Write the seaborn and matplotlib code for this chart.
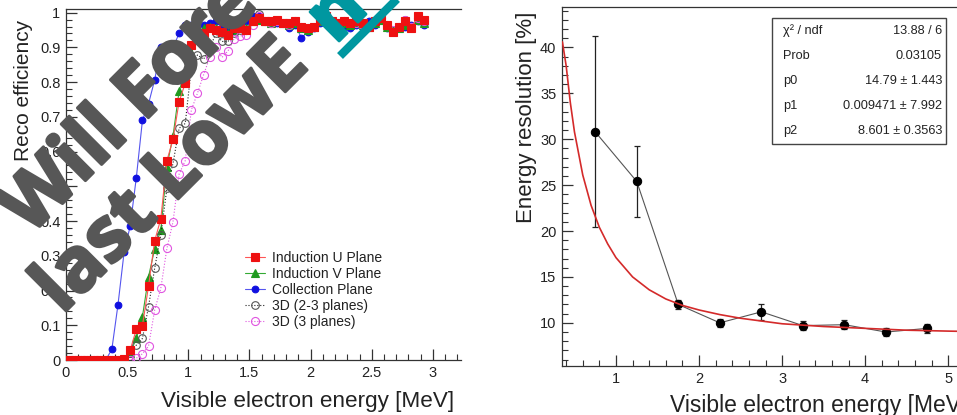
import numpy as np
import pandas as pd
import matplotlib
matplotlib.use("Agg")
import matplotlib.pyplot as plt
import seaborn as sns
from matplotlib.patches import Rectangle
from matplotlib.ticker import MultipleLocator, FuncFormatter
import matplotlib.lines as mlines
import matplotlib.patheffects as pe

# ---------------- data (left panel: reconstruction efficiency) ----------------
energy_bins = [0.025, 0.075, 0.125, 0.175, 0.225, 0.275, 0.325, 0.375, 0.425, 0.475,
               0.525, 0.575, 0.625, 0.675, 0.725, 0.775, 0.825, 0.875, 0.925, 0.975,
               1.025, 1.075, 1.125, 1.175, 1.225, 1.275, 1.325, 1.375, 1.425, 1.475,
               1.525, 1.575, 1.625, 1.675, 1.725, 1.775, 1.825, 1.875, 1.925, 1.975,
               2.025, 2.075, 2.125, 2.175, 2.225, 2.275, 2.325, 2.375, 2.425, 2.475,
               2.525, 2.575, 2.625, 2.675, 2.725, 2.775, 2.825, 2.875, 2.925]

eff_induction_u = [0, 0, 0, 0, 0, 0, 0, 0, 0, 0.003,
                   0.029, 0.088, 0.099, 0.213, 0.343, 0.406, 0.574, 0.635, 0.744, 0.797,
                   0.907, 0.940, 0.940, 0.955, 0.950, 0.945, 0.935, 0.955, 0.955, 0.950,
                   0.975, 0.985, 0.975, 0.975, 0.980, 0.970, 0.970, 0.975, 0.960, 0.955,
                   0.960, 0.980, 0.990, 0.975, 0.970, 0.975, 0.970, 0.975, 0.970, 0.960,
                   0.975, 0.985, 0.965, 0.945, 0.960, 0.975, 0.955, 0.990, 0.980]

eff_induction_v = [0, 0, 0, 0, 0, 0, 0, 0, 0, 0,
                   0.020, 0.062, 0.125, 0.240, 0.320, 0.374, 0.557, 0.645, 0.775, 0.830,
                   0.883, 0.930, 0.955, 0.960, 0.955, 0.945, 0.940, 0.950, 0.960, 0.955,
                   0.975, 0.980, 0.975, 0.970, 0.975, 0.970, 0.965, 0.970, 0.955, 0.950,
                   0.960, 0.975, 0.985, 0.970, 0.965, 0.970, 0.965, 0.970, 0.965, 0.960,
                   0.970, 0.980, 0.960, 0.950, 0.955, 0.965, 0.960, 0.980, 0.970]

eff_collection = [0, 0, 0, 0, 0, 0, 0, 0.031, 0.159, 0.310,
                  0.386, 0.525, 0.690, 0.738, 0.806, 0.900, 0.904, 0.900, 0.940, 0.965,
                  0.965, 0.965, 0.965, 0.970, 0.975, 0.955, 0.950, 0.955, 0.965, 0.975,
                  0.990, 0.990, 0.975, 0.970, 0.970, 0.970, 0.955, 0.965, 0.927, 0.945,
                  0.955, 0.970, 0.980, 0.975, 0.965, 0.960, 0.955, 0.965, 0.970, 0.975,
                  0.965, 0.980, 0.955, 0.945, 0.955, 0.960, 0.965, 0.975, 0.965]

eff_3d_23 = [0, 0, 0, 0, 0, 0, 0, 0, 0, 0,
             0.020, 0.043, 0.062, 0.154, 0.264, 0.360, 0.494, 0.566, 0.667, 0.681,
             0.842, 0.878, 0.866, 0.897, 0.940, 0.917, 0.917, 0.940, 0.950, 0.950,
             0.975, 0.995, 0.975, 0.975, 0.980, 0.970, 0.970, 0.975, 0.960, 0.955,
             0.960, 0.980, 0.990, 0.975, 0.970, 0.975, 0.970, 0.975, 0.970, 0.960,
             0.975, 0.985, 0.965, 0.950, 0.960, 0.980, 0.960, 0.985, 0.975]

eff_3d_3 = [0, 0, 0, 0, 0, 0, 0, 0, 0, 0,
            0.000, 0.005, 0.018, 0.040, 0.144, 0.206, 0.321, 0.398, 0.535, 0.574,
            0.720, 0.768, 0.821, 0.871, 0.902, 0.871, 0.890, 0.925, 0.933, 0.935,
            0.965, 0.990, 0.975, 0.970, 0.975, 0.970, 0.965, 0.975, 0.960, 0.955,
            0.960, 0.980, 0.985, 0.975, 0.970, 0.975, 0.970, 0.970, 0.965, 0.960,
            0.975, 0.985, 0.965, 0.950, 0.960, 0.980, 0.960, 0.985, 0.975]

series_labels = ["Induction U Plane", "Induction V Plane", "Collection Plane",
                 "3D (2-3 planes)", "3D (3 planes)"]

# ---------------- data (right panel: energy resolution) ----------------
res_energy = [0.75, 1.25, 1.75, 2.25, 2.75, 3.25, 3.75, 4.25, 4.75]
res_value = [30.8, 25.4, 12.0, 10.0, 11.2, 9.7, 9.8, 9.0, 9.4]
res_error = [10.4, 3.9, 0.5, 0.4, 0.9, 0.5, 0.5, 0.4, 0.5]

fit_energy = [0.355, 0.40, 0.45, 0.50, 0.60, 0.70, 0.80, 0.90, 1.00, 1.20, 1.40, 1.60,
              1.80, 2.00, 2.25, 2.50, 2.75, 3.00, 3.50, 4.00, 4.50, 5.00, 5.30]
fit_value = [40.6, 38.0, 34.0, 30.8, 26.1, 22.8, 20.4, 18.6, 17.1, 15.0, 13.6, 12.6,
             11.9, 11.4, 10.9, 10.5, 10.2, 9.9, 9.6, 9.4, 9.2, 9.1, 9.05]

stats_names = ["\u03c7\u00b2 / ndf", "Prob", "p0", "p1", "p2"]
stats_values = ["13.88 / 6", "0.03105", "14.79 \u00b1 1.443", "0.009471 \u00b1 7.992",
                "8.601 \u00b1 0.3563"]

# ---------------- style ----------------
sns.set_theme(style="ticks")
plt.rcParams["font.family"] = ["Liberation Sans", "DejaVu Sans"]
plt.rcParams["axes.edgecolor"] = "#333333"
plt.rcParams["axes.linewidth"] = 0.9

W, H = 957, 415
fig = plt.figure(figsize=(W / 100, H / 100), dpi=100)
fig.patch.set_facecolor("white")


def fx(px):
    return px / W


def fy(py):
    return 1 - py / H


# ---------------- left panel ----------------
ax1 = fig.add_axes([fx(66), fy(360), (461 - 66) / W, (360 - 9.5) / H])
ax1.set_facecolor("white")

styles = [
    dict(y=eff_induction_u, marker="s", ms=5.2, ls="-", mfc="#ee1111", mec="#ee1111", z=6),
    dict(y=eff_induction_v, marker="^", ms=5.2, ls="-", mfc="#1f9a1f", mec="#1f9a1f", z=4),
    dict(y=eff_collection, marker="o", ms=4.8, ls="-", mfc="#1010e0", mec="#1010e0", z=3),
    dict(y=eff_3d_23, marker="o", ms=5.5, ls=":", mfc="none", mec="#555555", z=5),
    dict(y=eff_3d_3, marker="o", ms=5.8, ls=":", mfc="none", mec="#e055e0", z=5),
]
line_colors = ["#ff5555", "#33aa33", "#5555ee", "#222222", "#e055e0"]
for st, lab, lc in zip(styles, series_labels, line_colors):
    sns.lineplot(x=energy_bins, y=st["y"], ax=ax1, color=lc, linewidth=0.8,
                 linestyle=st["ls"], marker=st["marker"], markersize=st["ms"],
                 markerfacecolor=st["mfc"], markeredgecolor=st["mec"],
                 markeredgewidth=0.8, label=lab, zorder=st["z"], errorbar=None,
                 sort=False)

ax1.set_xlim(0, (461 - 66) / 122.3)
ax1.set_ylim(0, 1.009)
ax1.xaxis.set_major_locator(MultipleLocator(0.5))
ax1.xaxis.set_minor_locator(MultipleLocator(0.1))
ax1.yaxis.set_major_locator(MultipleLocator(0.1))
ax1.yaxis.set_minor_locator(MultipleLocator(0.02))
fmt = FuncFormatter(lambda v, p: f"{v:g}")
ax1.xaxis.set_major_formatter(fmt)
ax1.yaxis.set_major_formatter(fmt)
ax1.spines["right"].set_visible(False)

leg = ax1.legend(loc="upper left", bbox_to_anchor=(0.453, 0.31), frameon=False,
                 fontsize=10, handlelength=1.45, handletextpad=0.5,
                 labelspacing=0.14, borderpad=0, borderaxespad=0)
for t in leg.get_texts():
    t.set_color("#222222")

ax1.set_xlabel("Visible electron energy [MeV]", fontsize=16.2, color="#222222", loc="right")
ax1.xaxis.set_label_coords((454 - 66) / 395, (360 - 391) / 350.5)
ax1.set_ylabel("Reco efficiency", fontsize=15, color="#222222", loc="top")
ax1.yaxis.set_label_coords((33 - 66) / 395, 1 - (20 - 9.5) / 350.5)

# ---------------- right panel ----------------
ax2 = fig.add_axes([fx(562), fy(366), (969 - 562) / W, (366 - 7) / H])
ax2.set_facecolor("white")

sns.lineplot(x=res_energy, y=res_value, ax=ax2, color="#555555", linewidth=0.8,
             marker="o", markersize=6, markerfacecolor="black",
             markeredgecolor="black", errorbar=None, zorder=4, sort=False)
ax2.errorbar(res_energy, res_value, yerr=res_error, fmt="none", ecolor="#222222",
             elinewidth=0.9, capsize=2, capthick=0.9, zorder=3)
sns.lineplot(x=fit_energy, y=fit_value, ax=ax2, color="#d42a2a", linewidth=1.2,
             errorbar=None, zorder=5, sort=False)

ax2.set_xlim(0.35, 5.25)
ax2.set_ylim(5.3, 44.4)
ax2.xaxis.set_major_locator(MultipleLocator(1))
ax2.xaxis.set_minor_locator(MultipleLocator(0.2))
ax2.yaxis.set_major_locator(MultipleLocator(5))
ax2.yaxis.set_minor_locator(MultipleLocator(1))
ax2.yaxis.set_major_formatter(FuncFormatter(lambda v, p: f"{v:g}" if v >= 10 else ""))
ax2.spines["right"].set_visible(False)

ax2.set_xlabel("Visible electron energy [MeV]", fontsize=16.5, color="#222222", loc="left")
ax2.xaxis.set_label_coords((670 - 562) / 407, (366 - 394) / 359)
ax2.set_ylabel("Energy resolution [%]", fontsize=16, color="#222222", loc="top")
ax2.yaxis.set_label_coords((537 - 562) / 407, 1 - (12 - 7) / 359)

for ax in (ax1, ax2):
    ax.tick_params(axis="both", which="both", direction="in", top=False, right=False,
                   color="#333333", labelcolor="#222222")
    ax.tick_params(which="major", length=8, width=0.9, labelsize=10.5, pad=4)
    ax.tick_params(which="minor", length=4, width=0.8)
    ax.grid(False)

# stats box
bx0, by0, bx1, by1 = 772, 18, 946, 144
fig.add_artist(Rectangle((fx(bx0), fy(by1)), (bx1 - bx0) / W, (by1 - by0) / H,
                         transform=fig.transFigure, facecolor="white",
                         edgecolor="#444444", linewidth=1.0, zorder=10))
for i, (n, v) in enumerate(zip(stats_names, stats_values)):
    yc = by0 + (by1 - by0) * (i + 0.5) / 5
    fig.text(fx(783), fy(yc), n, fontsize=9.2, color="#222222", ha="left", va="center", zorder=11)
    fig.text(fx(942), fy(yc), v, fontsize=9.2, color="#222222", ha="right", va="center", zorder=11)

# overlaid banner text
gray = "#575757"
teal = "#0097a0"
wm = dict(fontsize=54, family=["Open Sans", "DejaVu Sans"], weight="bold",
          rotation=45, rotation_mode="anchor", ha="left", va="baseline", zorder=20)
t1 = fig.text(fx(30), fy(236), "Will Fore", color=gray, **wm)
t2 = fig.text(fx(62), fy(315), "last LowE", color=gray, **wm)
t3 = fig.text(fx(335), fy(45), "n", color=teal, **wm)
for t, c in ((t1, gray), (t2, gray), (t3, teal)):
    t.set_path_effects([pe.withStroke(linewidth=2.2, foreground=c)])
fig.add_artist(mlines.Line2D([fx(340), fx(400)], [fy(56), fy(-4)], transform=fig.transFigure,
                             color=teal, linewidth=6, solid_capstyle="butt", zorder=20))

fig.savefig("out.png", dpi=100, facecolor="white")
